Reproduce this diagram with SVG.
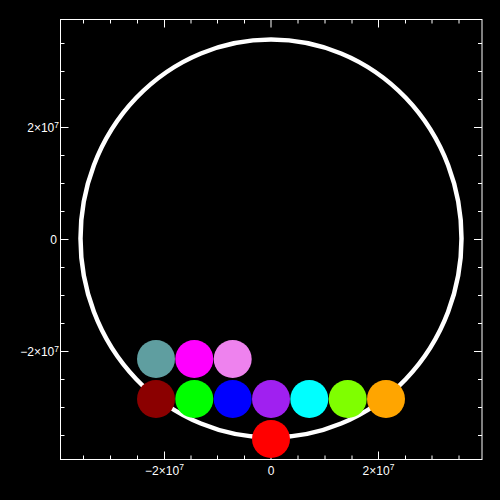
<svg xmlns="http://www.w3.org/2000/svg" width="500" height="500" viewBox="0 0 500 500">
<style>
.ax{stroke:#fff;stroke-width:1;fill:none}
.lbl{fill:#fff;font-family:"Liberation Sans",Arial,sans-serif;font-size:12px}
.sup{font-size:8.5px}
.dot{stroke:none}
</style>
<rect x="0" y="0" width="500" height="500" fill="#000"/>
<g id="axes">
<rect class="ax" x="60.5" y="19.5" width="421.5" height="440"/>
<path class="ax" d="M83.5,19.5v4M110.5,19.5v4M137.5,19.5v4M164.5,19.5v8M191,19.5v4M217.5,19.5v4M244.5,19.5v4M271,19.5v8M298,19.5v4M325,19.5v4M352,19.5v4M378.5,19.5v8M405.5,19.5v4M432,19.5v4M459,19.5v4
M83.5,459.5v-4M110.5,459.5v-4M137.5,459.5v-4M164.5,459.5v-8M191,459.5v-4M217.5,459.5v-4M244.5,459.5v-4M271,459.5v-8M298,459.5v-4M325,459.5v-4M352,459.5v-4M378.5,459.5v-8M405.5,459.5v-4M432,459.5v-4M459,459.5v-4
M60.5,43.5h4M60.5,71.5h4M60.5,99.5h4M60.5,127.5h8M60.5,155.5h4M60.5,183.5h4M60.5,211.5h4M60.5,239.5h8M60.5,267.5h4M60.5,295.5h4M60.5,323.5h4M60.5,351.5h8M60.5,379.5h4M60.5,407.5h4M60.5,435.5h4
M482,43.5h-4M482,71.5h-4M482,99.5h-4M482,127.5h-8M482,155.5h-4M482,183.5h-4M482,211.5h-4M482,239.5h-8M482,267.5h-4M482,295.5h-4M482,323.5h-4M482,351.5h-8M482,379.5h-4M482,407.5h-4M482,435.5h-4"/>
<text class="lbl" x="59" y="132" text-anchor="end">2×10<tspan class="sup" dy="-4.5">7</tspan></text>
<text class="lbl" x="57" y="244" text-anchor="end">0</text>
<text class="lbl" x="59" y="356" text-anchor="end">−2×10<tspan class="sup" dy="-4.5">7</tspan></text>
<text class="lbl" x="164.5" y="474.5" text-anchor="middle">−2×10<tspan class="sup" dy="-4.5">7</tspan></text>
<text class="lbl" x="271" y="474.5" text-anchor="middle">0</text>
<text class="lbl" x="378.5" y="474.5" text-anchor="middle">2×10<tspan class="sup" dy="-4.5">7</tspan></text>
</g>
<g id="ring">
<ellipse cx="271" cy="238.5" rx="190.5" ry="199" fill="none" stroke="#fff" stroke-width="4.5"/>
</g>
<g id="connectors"></g>
<g id="dots">
<circle id="n1" class="dot" cx="156" cy="359" r="19" fill="#5F9EA0"/>
<circle id="n2" class="dot" cx="194.3" cy="359" r="19" fill="#FF00FF"/>
<circle id="n3" class="dot" cx="232.7" cy="359" r="19" fill="#EE82EE"/>
<circle id="n4" class="dot" cx="156" cy="399" r="19" fill="#8B0000"/>
<circle id="n5" class="dot" cx="194.3" cy="399" r="19" fill="#00FF00"/>
<circle id="n6" class="dot" cx="232.7" cy="399" r="19" fill="#0000FF"/>
<circle id="n7" class="dot" cx="271" cy="399" r="19" fill="#A020F0"/>
<circle id="n8" class="dot" cx="309.3" cy="399" r="19" fill="#00FFFF"/>
<circle id="n9" class="dot" cx="347.7" cy="399" r="19" fill="#7FFF00"/>
<circle id="n10" class="dot" cx="386" cy="399" r="19" fill="#FFA500"/>
<circle id="n11" class="dot" cx="271" cy="439" r="19" fill="#FF0000"/>
</g>
</svg>
